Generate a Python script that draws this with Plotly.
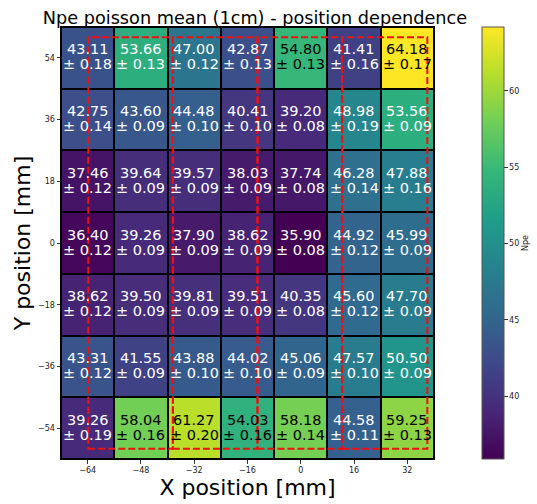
import plotly.graph_objects as go

# ---- data ----
x_pos = [-64, -48, -32, -16, 0, 16, 32]
y_pos = [54, 36, 18, 0, -18, -36, -54]

npe_mean = [
    [43.11, 53.66, 47.00, 42.87, 54.80, 41.41, 64.18],
    [42.75, 43.60, 44.48, 40.41, 39.20, 48.98, 53.56],
    [37.46, 39.64, 39.57, 38.03, 37.74, 46.28, 47.88],
    [36.40, 39.26, 37.90, 38.62, 35.90, 44.92, 45.99],
    [38.62, 39.50, 39.81, 39.51, 40.35, 45.60, 47.70],
    [43.31, 41.55, 43.88, 44.02, 45.06, 47.57, 50.50],
    [39.26, 58.04, 61.27, 54.03, 58.18, 44.58, 59.25],
]
npe_err = [
    [0.18, 0.13, 0.12, 0.13, 0.13, 0.16, 0.17],
    [0.14, 0.09, 0.10, 0.10, 0.08, 0.19, 0.09],
    [0.12, 0.09, 0.09, 0.09, 0.08, 0.14, 0.16],
    [0.12, 0.09, 0.09, 0.09, 0.08, 0.12, 0.09],
    [0.12, 0.09, 0.09, 0.09, 0.08, 0.12, 0.09],
    [0.12, 0.09, 0.10, 0.10, 0.09, 0.10, 0.09],
    [0.19, 0.16, 0.20, 0.16, 0.14, 0.11, 0.13],
]
# outlines of the bars (mm)
bar_edges_x = [-63.8, -38.4, -13.0, 12.4, 38.0]
bar_edges_y = [-60, 60]

FONT = "DejaVu Sans"
zmin = min(min(r) for r in npe_mean)
zmax = max(max(r) for r in npe_mean)

fig = go.Figure()
fig.add_trace(go.Heatmap(
    x=x_pos, y=y_pos, z=npe_mean,
    colorscale="Viridis", zmin=zmin, zmax=zmax,
    xgap=2, ygap=2,
    colorbar=dict(
        x=1.129, xanchor="left", xref="paper", xpad=0, ypad=0,
        y=0.5, yanchor="middle", len=1.0, lenmode="fraction",
        thickness=22, outlinewidth=1, outlinecolor="#555",
        ticks="outside", ticklen=3.5, tickwidth=1, tickcolor="#333",
        tickvals=[40, 45, 50, 55, 60],
        tickfont=dict(family=FONT, size=8, color="#222"),
        title=dict(text="Npe", side="right", font=dict(family=FONT, size=8, color="#222")),
    ),
    hoverinfo="skip",
))

annotations = []
for i, yv in enumerate(y_pos):
    for j, xv in enumerate(x_pos):
        v = npe_mean[i][j]
        col = "black" if v > 53.8 else "white"
        annotations.append(dict(x=xv, y=yv, xref="x", yref="y", text=f"{v:.2f}",
                                showarrow=False, yshift=8.5,
                                font=dict(family=FONT, size=14.5, color=col)))
        annotations.append(dict(x=xv, y=yv, xref="x", yref="y", text=f"± {npe_err[i][j]:.2f}",
                                showarrow=False, yshift=-6.5,
                                font=dict(family=FONT, size=14.5, color=col)))

shapes = []
for k in range(len(bar_edges_x) - 1):
    shapes.append(dict(type="rect", xref="x", yref="y",
                       x0=bar_edges_x[k], x1=bar_edges_x[k + 1],
                       y0=bar_edges_y[0], y1=bar_edges_y[1],
                       line=dict(color="#f01010", width=2, dash="7px,3px"),
                       fillcolor="rgba(0,0,0,0)", layer="above"))

fig.update_layout(
    width=537, height=504,
    margin=dict(l=61, r=103, t=27, b=45, autoexpand=False),
    paper_bgcolor="white", plot_bgcolor="black",
    font=dict(family=FONT),
    title=dict(text="Npe poisson mean (1cm) - position dependence",
               x=0.52, xref="paper", xanchor="center", automargin=False,
               y=1, yref="paper", yanchor="bottom", pad=dict(b=3),
               font=dict(family=FONT, size=17.7, color="black")),
    annotations=annotations,
    shapes=shapes,
)
fig.update_xaxes(
    range=[-72, 40], tickvals=x_pos, ticks="outside", ticklen=3.5, tickcolor="#333",
    tickfont=dict(family=FONT, size=8, color="#222"), automargin=False,
    showgrid=False, zeroline=False, showline=True, linecolor="black", linewidth=1, mirror=True,
    title=dict(text="X position [mm]", font=dict(family=FONT, size=22, color="black"), standoff=4),
)
fig.update_yaxes(
    range=[-63, 63], tickvals=y_pos, ticks="outside", ticklen=3.5, tickcolor="#333",
    tickfont=dict(family=FONT, size=8, color="#222"), automargin=False,
    showgrid=False, zeroline=False, showline=True, linecolor="black", linewidth=1, mirror=True,
    title=dict(text="Y position [mm]", font=dict(family=FONT, size=22, color="black"), standoff=1),
)

fig.write_html("out.html")
